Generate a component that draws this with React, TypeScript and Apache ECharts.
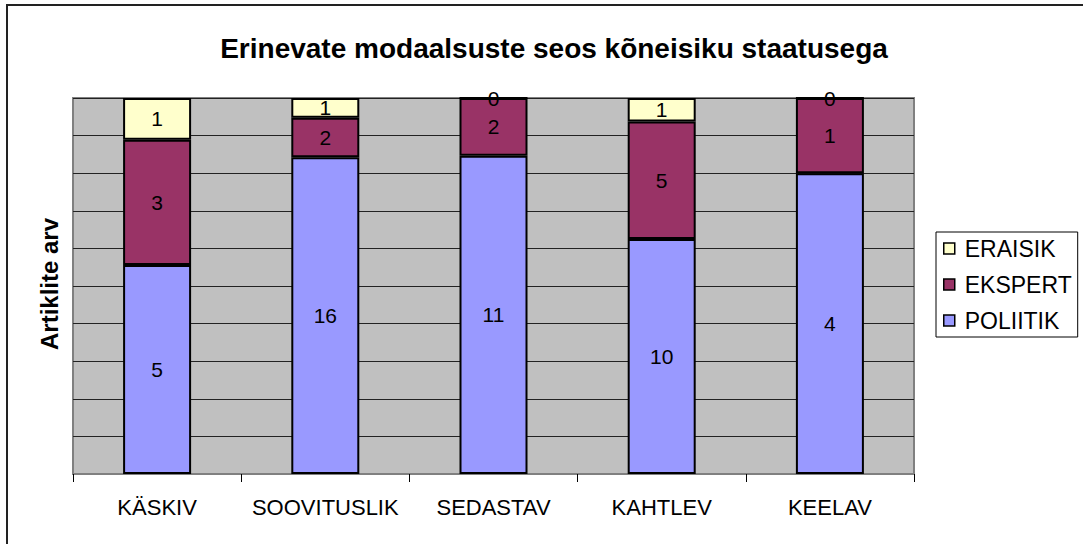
import React, { useEffect, useRef } from "react";
import * as echarts from "echarts";

const categories = ["KÄSKIV", "SOOVITUSLIK", "SEDASTAV", "KAHTLEV", "KEELAV"];
const poliitik = [5, 16, 11, 10, 4];
const ekspert = [3, 2, 2, 5, 1];
const eraisik = [1, 1, 0, 1, 0];
const seriesNames = ["POLIITIK", "EKSPERT", "ERAISIK"];
const seriesColors = ["#9999FF", "#993366", "#FFFFCC"];

const FONT = "'Liberation Sans', Arial, sans-serif";

export default function App() {
  const ref = useRef<HTMLDivElement>(null);
  useEffect(() => {
    document.body.style.margin = "0";
    if (!ref.current) return;
    const chart = echarts.init(ref.current, undefined, { renderer: "svg" });
    const raw = [poliitik, ekspert, eraisik];
    const totals = categories.map((_, i) => poliitik[i] + ekspert[i] + eraisik[i]);
    const series = raw.map((vals, si) => ({
      name: seriesNames[si],
      type: "bar",
      stack: "total",
      barWidth: 68,
      data: vals.map((v, i) => ({ value: (v / totals[i]) * 100, raw: v })),
      itemStyle: { color: seriesColors[si], borderColor: "#000", borderWidth: 2 },
      label: {
        show: true,
        position: "inside",
        color: "#000",
        fontSize: 21,
        fontFamily: FONT,
        formatter: (p: any) => String(p.data.raw),
      },
    }));
    chart.setOption({
      animation: false,
      backgroundColor: "#fff",
      title: {
        text: "Erinevate modaalsuste seos kõneisiku staatusega",
        left: 549,
        textAlign: "center",
        top: 29,
        textStyle: { fontSize: 28, fontWeight: "bold", fontFamily: FONT, color: "#000" },
      },
      grid: {
        left: 73,
        right: 1083 - 914,
        top: 98,
        bottom: 544 - 474,
        show: true,
        backgroundColor: "#C0C0C0",
        borderColor: "#808080",
        borderWidth: 2,
      },
      legend: {
        orient: "vertical",
        left: 936,
        top: 232,
        data: ["ERAISIK", "EKSPERT", "POLIITIK"],
        icon: "rect",
        itemWidth: 11,
        itemHeight: 11,
        itemGap: 13,
        padding: [5, 6, 5, 7],
        borderColor: "#000",
        borderWidth: 1,
        itemStyle: { borderWidth: 1.5, borderColor: "#000" },
        textStyle: { fontSize: 23, fontFamily: FONT, color: "#000", padding: [0, 0, 0, 5] },
      },
      xAxis: {
        type: "category",
        data: categories,
        boundaryGap: true,
        axisLine: { show: true, lineStyle: { color: "#808080", width: 2 } },
        axisTick: { show: true, length: 8, lineStyle: { color: "#000", width: 1 } },
        axisLabel: {
          interval: 0,
          hideOverlap: false,
          fontSize: 22,
          fontFamily: FONT,
          color: "#000",
          margin: 22,
        },
      },
      yAxis: {
        type: "value",
        min: 0,
        max: 100,
        interval: 10,
        axisLine: { show: false },
        axisTick: { show: false },
        axisLabel: { show: false },
        splitLine: { show: true, lineStyle: { color: "#222", width: 1 } },
      },
      graphic: [
        {
          type: "text",
          x: 49,
          y: 350,
          rotation: Math.PI / 2,
          style: {
            text: "Artiklite arv",
            fontSize: 24,
            fontWeight: "bold",
            fontFamily: FONT,
            fill: "#000",
            align: "left",
            verticalAlign: "middle",
          },
          silent: true,
        },
        {
          type: "rect",
          shape: { x: 7, y: 5, width: 1100, height: 560 },
          style: { fill: "none", stroke: "#222", lineWidth: 2 },
          silent: true,
          z: 100,
        },
      ],
      series,
    });
    return () => chart.dispose();
  }, []);
  return <div ref={ref} style={{ width: 1083, height: 544 }} />;
}
